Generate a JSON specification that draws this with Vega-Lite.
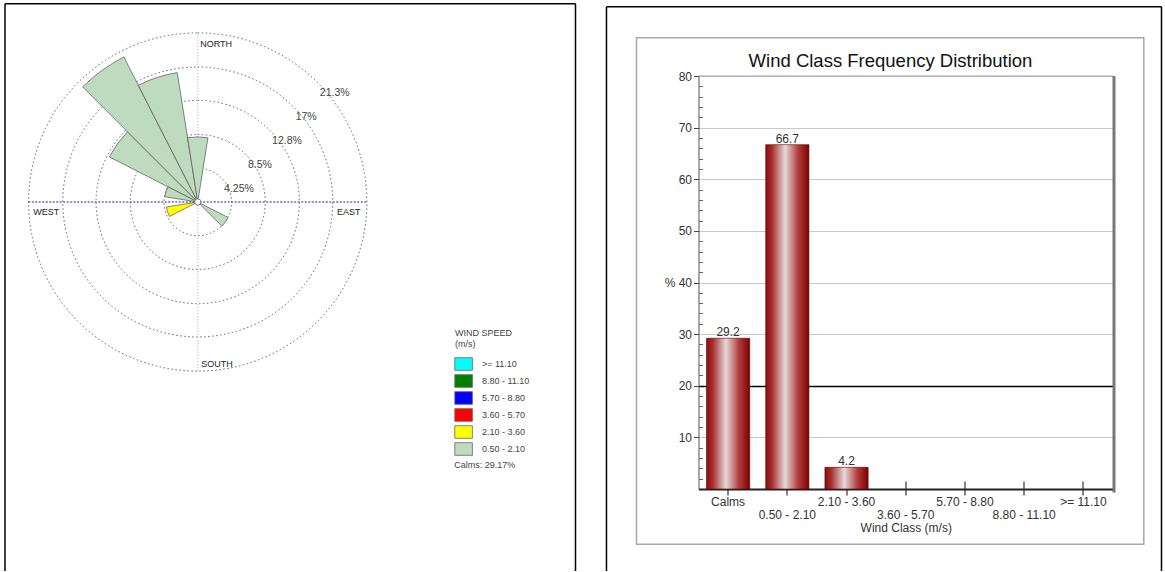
{
  "$schema": "https://vega.github.io/schema/vega-lite/v6.json",
  "background": "white",
  "padding": {"left": 4, "top": 3, "right": 0, "bottom": 0},
  "config": {"font": "Liberation Sans", "view": {"stroke": null}},
  "datasets": {
    "petals": [
      {"a0": 297, "a1": 315, "r0": 0, "r1": 12.5, "speed": "0.50 - 2.10"},
      {"a0": 315, "a1": 333, "r0": 0, "r1": 20.5, "speed": "0.50 - 2.10"},
      {"a0": 333, "a1": 351, "r0": 0, "r1": 16.5, "speed": "0.50 - 2.10"},
      {"a0": 351, "a1": 369, "r0": 0, "r1": 8.2, "speed": "0.50 - 2.10"},
      {"a0": 279, "a1": 297, "r0": 0, "r1": 4.2, "speed": "0.50 - 2.10"},
      {"a0": 117, "a1": 135, "r0": 0, "r1": 4.3, "speed": "0.50 - 2.10"},
      {"a0": 243, "a1": 261, "r0": 0, "r1": 0.4, "speed": "0.50 - 2.10"},
      {"a0": 243, "a1": 261, "r0": 0.4, "r1": 4.0, "speed": "2.10 - 3.60"}
    ],
    "rings": [
      {"ring": 4.25, "label": "4.25%"},
      {"ring": 8.5, "label": "8.5%"},
      {"ring": 12.8, "label": "12.8%"},
      {"ring": 17, "label": "17%"},
      {"ring": 21.3, "label": "21.3%"}
    ],
    "classes": [
      {"cls": "Calms", "pct": 29.2},
      {"cls": "0.50 - 2.10", "pct": 66.7},
      {"cls": "2.10 - 3.60", "pct": 4.2},
      {"cls": "3.60 - 5.70", "pct": 0},
      {"cls": "5.70 - 8.80", "pct": 0},
      {"cls": "8.80 - 11.10", "pct": 0},
      {"cls": ">= 11.10", "pct": 0}
    ]
  },
  "spacing": 28.5,
  "resolve": {"scale": {"color": "independent"}},
  "hconcat": [
    {
      "width": 570.5,
      "height": 413,
      "layer": [
        {"data": {"values": [{}]}, "mark": {"type": "rule", "color": "#000", "strokeWidth": 1.5},
         "encoding": {"x": {"datum": -24.276, "type": "quantitative", "scale": {"domain": [-24.276, 47.576], "nice": false, "zero": false}, "axis": null},
                      "y": {"datum": -46.474, "type": "quantitative", "scale": {"domain": [-36.146, 15.869], "nice": false, "zero": false}, "axis": null},
                      "y2": {"datum": 24.968}}},
        {"data": {"values": [{}]}, "mark": {"type": "rule", "color": "#000", "strokeWidth": 1.5},
         "encoding": {"x": {"datum": -24.276, "type": "quantitative", "scale": {"domain": [-24.276, 47.576], "nice": false, "zero": false}, "axis": null},
                      "x2": {"datum": 47.576},
                      "y": {"datum": 24.968, "type": "quantitative", "scale": {"domain": [-36.146, 15.869], "nice": false, "zero": false}, "axis": null}}},
        {"data": {"values": [{}]}, "mark": {"type": "rule", "color": "#000", "strokeWidth": 1.5},
         "encoding": {"x": {"datum": 47.576, "type": "quantitative", "scale": {"domain": [-24.276, 47.576], "nice": false, "zero": false}, "axis": null},
                      "y": {"datum": -46.474, "type": "quantitative", "scale": {"domain": [-36.146, 15.869], "nice": false, "zero": false}, "axis": null},
                      "y2": {"datum": 24.968}}},
        {"data": {"name": "rings"},
         "mark": {"type": "arc", "fill": "#fff", "fillOpacity": 0, "stroke": "#5c5c7a", "strokeWidth": 1, "strokeDash": [1.5, 2.5]},
         "encoding": {"x": {"datum": 0, "type": "quantitative", "scale": {"domain": [-24.276, 47.576], "nice": false, "zero": false}, "axis": null},
                      "y": {"datum": 0, "type": "quantitative", "scale": {"domain": [-36.146, 15.869], "nice": false, "zero": false}, "axis": null},
                      "theta": {"datum": 0, "type": "quantitative", "scale": {"domain": [0, 360], "range": [0, 6.2832]}},
                      "theta2": {"datum": 360},
                      "radius": {"field": "ring", "type": "quantitative", "stack": null, "scale": {"type": "linear", "domain": [0, 21.3], "range": [0, 169.12], "zero": true, "nice": false}}}},
        {"data": {"values": [{}]}, "mark": {"type": "rule", "color": "#b4b4c8", "strokeDash": [1, 2], "strokeWidth": 1},
         "encoding": {"x": {"datum": 0, "type": "quantitative", "scale": {"domain": [-24.276, 47.576], "nice": false, "zero": false}, "axis": null},
                      "y": {"datum": -21.3, "type": "quantitative", "scale": {"domain": [-36.146, 15.869], "nice": false, "zero": false}, "axis": null},
                      "y2": {"datum": 21.3}}},
        {"data": {"name": "petals"},
         "mark": {"type": "arc", "stroke": "#555", "strokeWidth": 0.7},
         "encoding": {"x": {"datum": 0, "type": "quantitative", "scale": {"domain": [-24.276, 47.576], "nice": false, "zero": false}, "axis": null},
                      "y": {"datum": 0, "type": "quantitative", "scale": {"domain": [-36.146, 15.869], "nice": false, "zero": false}, "axis": null},
                      "theta": {"field": "a0", "type": "quantitative", "stack": null, "scale": {"domain": [0, 360], "range": [0, 6.2832]}},
                      "theta2": {"field": "a1"},
                      "radius": {"field": "r1", "type": "quantitative", "stack": null, "scale": {"type": "linear", "domain": [0, 21.3], "range": [0, 169.12], "zero": true, "nice": false}},
                      "radius2": {"field": "r0"},
                      "color": {"field": "speed", "type": "nominal",
                                "scale": {"domain": [">= 11.10", "8.80 - 11.10", "5.70 - 8.80", "3.60 - 5.70", "2.10 - 3.60", "0.50 - 2.10"],
                                          "range": ["#00ffff", "#008000", "#0000ff", "#ff0000", "#ffff00", "#bfdbbf"]},
                                "legend": {"title": ["WIND SPEED", "(m/s)"], "orient": "none", "legendX": 450.1, "legendY": 252.5, "padding": 0,
                                           "titleFontSize": 9, "titleFontWeight": "normal", "titleColor": "#444", "titleLineHeight": 11.5, "titlePadding": 6.5,
                                           "labelFontSize": 9, "labelColor": "#444", "labelOffset": 9.9,
                                           "symbolType": "M-1.1,-0.79L1.1,-0.79L1.1,0.79L-1.1,0.79Z", "symbolSize": 256,
                                           "symbolStrokeColor": "#666", "symbolStrokeWidth": 0.8, "symbolOpacity": 1, "rowPadding": 0}}}},
        {"data": {"values": [{}]}, "mark": {"type": "rule", "color": "#22228a", "strokeDash": [2, 1.5], "strokeWidth": 1.2},
         "encoding": {"x": {"datum": -21.35, "type": "quantitative", "scale": {"domain": [-24.276, 47.576], "nice": false, "zero": false}, "axis": null},
                      "x2": {"datum": 21.35},
                      "y": {"datum": 0, "type": "quantitative", "scale": {"domain": [-36.146, 15.869], "nice": false, "zero": false}, "axis": null}}},
        {"data": {"values": [{}]}, "mark": {"type": "point", "filled": true, "fill": "#fff", "stroke": "#777", "strokeWidth": 1, "size": 40, "opacity": 1},
         "encoding": {"x": {"datum": 0, "type": "quantitative", "scale": {"domain": [-24.276, 47.576], "nice": false, "zero": false}, "axis": null},
                      "y": {"datum": 0, "type": "quantitative", "scale": {"domain": [-36.146, 15.869], "nice": false, "zero": false}, "axis": null}}},
        {"data": {"name": "rings"},
         "mark": {"type": "text", "align": "left", "baseline": "top", "dx": 2.5, "dy": 5.5, "fontSize": 10.5, "color": "#444"},
         "encoding": {"x": {"datum": 0, "type": "quantitative", "scale": {"domain": [-24.276, 47.576], "nice": false, "zero": false}, "axis": null},
                      "y": {"datum": 0, "type": "quantitative", "scale": {"domain": [-36.146, 15.869], "nice": false, "zero": false}, "axis": null},
                      "theta": {"datum": 45, "type": "quantitative", "scale": {"domain": [0, 360], "range": [0, 6.2832]}},
                      "radius": {"field": "ring", "type": "quantitative", "stack": null, "scale": {"type": "linear", "domain": [0, 21.3], "range": [0, 169.12], "zero": true, "nice": false}},
                      "text": {"field": "label"}}},
        {"data": {"values": [{}]}, "mark": {"type": "text", "text": "NORTH", "align": "left", "baseline": "alphabetic", "fontSize": 9, "color": "#222"},
         "encoding": {"x": {"datum": 0.31, "type": "quantitative", "scale": {"domain": [-24.276, 47.576], "nice": false, "zero": false}, "axis": null},
                      "y": {"datum": 19.58, "type": "quantitative", "scale": {"domain": [-36.146, 15.869], "nice": false, "zero": false}, "axis": null}}},
        {"data": {"values": [{}]}, "mark": {"type": "text", "text": "WEST", "align": "left", "baseline": "alphabetic", "fontSize": 9, "color": "#222"},
         "encoding": {"x": {"datum": -20.72, "type": "quantitative", "scale": {"domain": [-24.276, 47.576], "nice": false, "zero": false}, "axis": null},
                      "y": {"datum": -1.62, "type": "quantitative", "scale": {"domain": [-36.146, 15.869], "nice": false, "zero": false}, "axis": null}}},
        {"data": {"values": [{}]}, "mark": {"type": "text", "text": "EAST", "align": "left", "baseline": "alphabetic", "fontSize": 9, "color": "#222"},
         "encoding": {"x": {"datum": 17.53, "type": "quantitative", "scale": {"domain": [-24.276, 47.576], "nice": false, "zero": false}, "axis": null},
                      "y": {"datum": -1.62, "type": "quantitative", "scale": {"domain": [-36.146, 15.869], "nice": false, "zero": false}, "axis": null}}},
        {"data": {"values": [{}]}, "mark": {"type": "text", "text": "SOUTH", "align": "left", "baseline": "alphabetic", "fontSize": 9, "color": "#222"},
         "encoding": {"x": {"datum": 0.44, "type": "quantitative", "scale": {"domain": [-24.276, 47.576], "nice": false, "zero": false}, "axis": null},
                      "y": {"datum": -20.78, "type": "quantitative", "scale": {"domain": [-36.146, 15.869], "nice": false, "zero": false}, "axis": null}}},
        {"data": {"values": [{}]}, "mark": {"type": "text", "text": "Calms: 29.17%", "align": "left", "baseline": "alphabetic", "fontSize": 9, "color": "#444"},
         "encoding": {"x": {"datum": 32.3, "type": "quantitative", "scale": {"domain": [-24.276, 47.576], "nice": false, "zero": false}, "axis": null},
                      "y": {"datum": -33.5, "type": "quantitative", "scale": {"domain": [-36.146, 15.869], "nice": false, "zero": false}, "axis": null}}}
      ]
    },
    {
      "width": 414.5,
      "height": 413,
      "resolve": {"scale": {"x": "independent"}},
      "layer": [
        {
          "data": {"values": [{}]},
          "layer": [
            {"mark": {"type": "rule", "color": "#000", "strokeWidth": 1.5},
             "encoding": {"x": {"datum": -0.222, "type": "quantitative", "scale": {"domain": [0, 1], "nice": false, "zero": false}, "axis": null},
                          "y": {"datum": -15.88, "type": "quantitative", "scale": {"domain": [0, 80], "nice": false, "zero": true}, "axis": null},
                          "y2": {"datum": 93.42}}},
            {"mark": {"type": "rule", "color": "#000", "strokeWidth": 1.5},
             "encoding": {"x": {"datum": -0.222, "type": "quantitative", "scale": {"domain": [0, 1], "nice": false, "zero": false}, "axis": null},
                          "x2": {"datum": 1.117},
                          "y": {"datum": 93.42, "type": "quantitative", "scale": {"domain": [0, 80], "nice": false, "zero": true}, "axis": null}}},
            {"mark": {"type": "rule", "color": "#000", "strokeWidth": 1.5},
             "encoding": {"x": {"datum": 1.117, "type": "quantitative", "scale": {"domain": [0, 1], "nice": false, "zero": false}, "axis": null},
                          "y": {"datum": -15.88, "type": "quantitative", "scale": {"domain": [0, 80], "nice": false, "zero": true}, "axis": null},
                          "y2": {"datum": 93.42}}},
            {"mark": {"type": "rule", "color": "#fff", "strokeOpacity": 0, "strokeWidth": 1.5},
             "encoding": {"x": {"datum": -0.222, "type": "quantitative", "scale": {"domain": [0, 1], "nice": false, "zero": false}, "axis": null},
                          "x2": {"datum": 1.117},
                          "y": {"datum": 93.995, "type": "quantitative", "scale": {"domain": [0, 80], "nice": false, "zero": true}, "axis": null}}},
            {"mark": {"type": "rect", "fill": "#fff", "fillOpacity": 0, "stroke": "#a8a8a8", "strokeWidth": 1.5},
             "encoding": {"x": {"datum": -0.1496, "type": "quantitative", "scale": {"domain": [0, 1], "nice": false, "zero": false}, "axis": null},
                          "x2": {"datum": 1.0743},
                          "y": {"datum": -10.71, "type": "quantitative", "scale": {"domain": [0, 80], "nice": false, "zero": true}, "axis": null},
                          "y2": {"datum": 87.42}}},
            {"mark": {"type": "rule", "color": "#a0a0a0", "strokeWidth": 1},
             "encoding": {"x": {"datum": 0, "type": "quantitative", "scale": {"domain": [0, 1], "nice": false, "zero": false}, "axis": null},
                          "x2": {"datum": 1},
                          "y": {"datum": 80, "type": "quantitative", "scale": {"domain": [0, 80], "nice": false, "zero": true}, "axis": null}}},
            {"mark": {"type": "rule", "color": "#777", "strokeWidth": 3},
             "encoding": {"x": {"datum": 1.0024, "type": "quantitative", "scale": {"domain": [0, 1], "nice": false, "zero": false}, "axis": null},
                          "y": {"datum": -0.7, "type": "quantitative", "scale": {"domain": [0, 80], "nice": false, "zero": true}, "axis": null},
                          "y2": {"datum": 80}}},
            {"mark": {"type": "text", "text": "Wind Class Frequency Distribution", "align": "center", "baseline": "alphabetic", "fontSize": 18.5, "color": "#111"},
             "encoding": {"x": {"datum": 0.4632, "type": "quantitative", "scale": {"domain": [0, 1], "nice": false, "zero": false}, "axis": null},
                          "y": {"datum": 81.7, "type": "quantitative", "scale": {"domain": [0, 80], "nice": false, "zero": true}, "axis": null}}}
          ]
        },
        {
          "data": {"name": "classes"},
          "resolve": {"axis": {"x": "independent", "y": "independent"}},
          "layer": [
            {"transform": [{"filter": "datum.pct > 0"}],
             "mark": {"type": "bar",
                      "fill": {"gradient": "linear", "x1": 0, "y1": 0, "x2": 1, "y2": 0,
                               "stops": [{"offset": 0, "color": "#8c0c0c"}, {"offset": 0.15, "color": "#a83030"}, {"offset": 0.45, "color": "#e6dada"}, {"offset": 0.75, "color": "#b23c3c"}, {"offset": 1, "color": "#7e0000"}]},
                      "stroke": "#5a0000", "strokeWidth": 0.6},
             "encoding": {
               "x": {"field": "cls", "type": "nominal", "sort": null,
                     "scale": {"domain": ["Calms", "0.50 - 2.10", "2.10 - 3.60", "3.60 - 5.70", "5.70 - 8.80", "8.80 - 11.10", ">= 11.10"], "paddingInner": 0.27, "paddingOuter": 0.135},
                     "axis": {"orient": "bottom", "title": "Wind Class (m/s)", "labelAngle": 0, "labelFontSize": 12, "labelColor": "#333",
                              "labelExpr": "indexof(['0.50 - 2.10','3.60 - 5.70','8.80 - 11.10'], datum.value) >= 0 ? ['', datum.label] : datum.label",
                              "labelLineHeight": 12.5, "labelPadding": 1.5, "labelOverlap": false,
                              "tickSize": 6, "tickColor": "#333", "tickWidth": 1.2, "domainColor": "#222", "domainWidth": 2,
                              "titleFontSize": 12, "titleFontWeight": "normal", "titleColor": "#333", "titlePadding": 2, "grid": false}},
               "y": {"field": "pct", "type": "quantitative",
                     "scale": {"domain": [0, 80], "nice": false, "zero": true},
                     "axis": {"orient": "left", "title": null, "values": [10, 20, 30, 40, 50, 60, 70, 80],
                              "labelExpr": "datum.value == 40 ? '% 40' : datum.label",
                              "labelFontSize": 12, "labelColor": "#333", "labelPadding": 2,
                              "tickSize": 5, "tickColor": "#444", "domainColor": "#555", "domainWidth": 1,
                              "grid": true,
                              "gridColor": {"condition": {"test": "datum.value == 20", "value": "#000"}, "value": "#c8c8c8"},
                              "gridWidth": {"condition": {"test": "datum.value == 20", "value": 1.6}, "value": 1}}}
             }},
            {"transform": [{"filter": "datum.pct > 0"}],
             "mark": {"type": "text", "baseline": "alphabetic", "dy": -2, "fontSize": 12, "color": "#333"},
             "encoding": {
               "x": {"field": "cls", "type": "nominal", "sort": null,
                     "scale": {"domain": ["Calms", "0.50 - 2.10", "2.10 - 3.60", "3.60 - 5.70", "5.70 - 8.80", "8.80 - 11.10", ">= 11.10"], "paddingInner": 0.27, "paddingOuter": 0.135},
                     "axis": {"orient": "bottom", "labels": false, "domain": false, "title": null, "grid": false, "tickSize": -8, "tickColor": "#333", "tickWidth": 1.2}},
               "y": {"field": "pct", "type": "quantitative",
                     "scale": {"domain": [0, 80], "nice": false, "zero": true},
                     "axis": {"orient": "left", "labels": false, "domain": false, "title": null, "grid": false,
                              "values": [2, 4, 6, 8, 12, 14, 16, 18, 22, 24, 26, 28, 32, 34, 36, 38, 42, 44, 46, 48, 52, 54, 56, 58, 62, 64, 66, 68, 72, 74, 76, 78],
                              "tickSize": -4, "tickColor": "#666"}},
               "text": {"field": "pct", "type": "quantitative", "format": ".1f"}
             }}
          ]
        }
      ]
    }
  ]
}
